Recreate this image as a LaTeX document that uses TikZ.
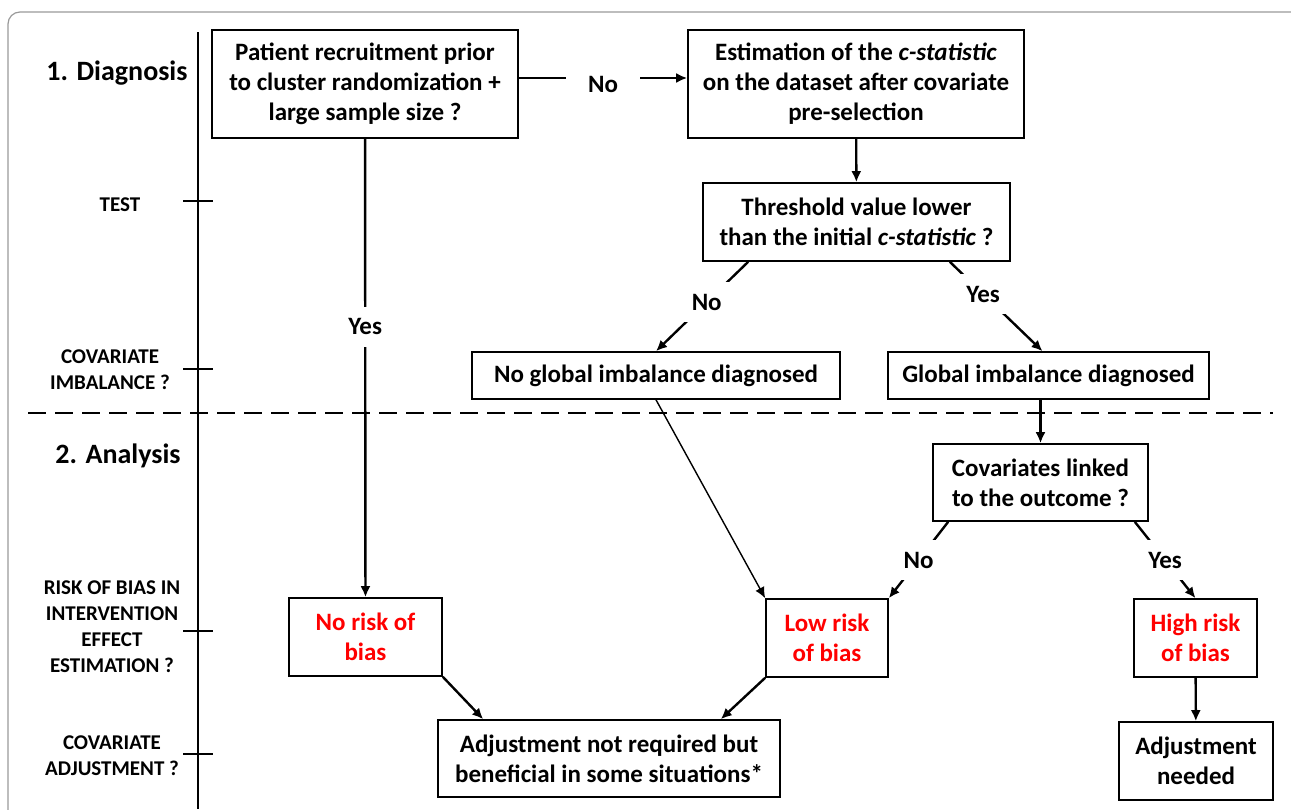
\documentclass[tikz,border=0pt]{standalone}
\usepackage{fontspec}
\setmainfont{Carlito}
\usetikzlibrary{positioning, arrows.meta}
\tikzset{caja/.style={draw, line width=0.8pt, align=center, inner sep=0pt, font=\fontsize{12.5}{15}\selectfont\bfseries}}
\tikzset{flecha/.style={line width=1.2pt, -{Latex[length=5.5pt,width=5pt]}}}
\tikzset{etiq/.style={fill=white, inner xsep=7pt, inner ysep=6pt, font=\fontsize{12.5}{15}\selectfont\bfseries}}
\tikzset{eje/.style={align=center, font=\fontsize{10.5}{13}\selectfont\bfseries}}
\tikzset{fase/.style={font=\fontsize{14}{17}\selectfont\bfseries}}

\begin{document}
\begin{tikzpicture}[x=0.5pt, y=-0.5pt]
    \useasboundingbox (0,0) rectangle (1291,809);
    \draw[black!40, line width=0.6pt, rounded corners=6pt] (8,12) rectangle (1320,840);

    % eje de fases
    \coordinate (ejeA) at (198,32);
    \coordinate (ejeB) at (198,809);
    \draw[line width=1.2pt] (ejeA) -- (ejeB);
    \foreach \y in {201,369,631,754}
        \draw[line width=1.2pt] (183,\y) -- (213,\y);

    \node[fase] (diag) at (117,73) {1. Diagnosis};
    \node[fase] (anal) at (118,456) {2. Analysis};
    \node[eje] (test) at (120,205) {TEST};
    \node[eje] (imb) at (110,370) {COVARIATE\\IMBALANCE ?};
    \node[eje] (riesgo) at (112,627) {RISK OF BIAS IN\\INTERVENTION\\EFFECT\\ESTIMATION ?};
    \node[eje] (ajuste) at (112,756) {COVARIATE\\ADJUSTMENT ?};

    \draw[line width=1.2pt, dash pattern=on 9pt off 4.5pt] (28,413) -- (1273,413);

    % cajas
    \node[caja, minimum width=153pt, minimum height=54pt] (recruit) at (365,84)
        {Patient recruitment prior\\to cluster randomization +\\large sample size ?};
    \node[caja, minimum width=168pt, minimum height=54pt] (cstat) at (856,84)
        {Estimation of the \textit{c-statistic}\\on the dataset after covariate\\pre-selection};
    \node[caja, minimum width=153.5pt, minimum height=39pt] (thresh) at (856.5,222)
        {Threshold value lower\\than the initial \textit{c-statistic} ?};
    \node[caja, minimum width=184pt, minimum height=23.5pt] (noimb) at (656,375.5)
        {No global imbalance diagnosed};
    \node[caja, minimum width=160.5pt, minimum height=23.5pt] (glimb) at (1048.5,375.5)
        {Global imbalance diagnosed};
    \node[caja, minimum width=107.5pt, minimum height=38.5pt] (linked) at (1040.5,482.5)
        {Covariates linked\\to the outcome ?};
    \node[caja, minimum width=76.5pt, minimum height=39pt, text=red] (norisk) at (365.5,637)
        {No risk of\\bias};
    \node[caja, minimum width=61pt, minimum height=39pt, text=red] (lowrisk) at (827,638)
        {Low risk\\of bias};
    \node[caja, minimum width=61.5pt, minimum height=39pt, text=red] (highrisk) at (1195.5,638)
        {High risk\\of bias};
    \node[caja, minimum width=171pt, minimum height=38.5pt] (notreq) at (609,758.5)
        {Adjustment not required but\\beneficial in some situations*};
    \node[caja, minimum width=77pt, minimum height=39pt] (needed) at (1196,761)
        {Adjustment\\needed};

    % conexiones
    \draw[flecha] ([yshift=3pt]recruit.east) -- node[etiq, inner xsep=11pt, yshift=-3pt] (noA) {No} ([yshift=3pt]cstat.west);
    \draw[flecha] (cstat) -- (thresh);
    \draw[flecha] ([xshift=23pt]thresh.south west) -- node[etiq, pos=0.45] (noB) {No} (noimb.north);
    \draw[flecha] ([xshift=-30.5pt]thresh.south east) -- node[etiq, pos=0.36] (siB) {Yes} ([xshift=-3pt]glimb.north);
    \draw[flecha] (recruit) -- node[etiq, pos=0.41] (siA) {Yes} (norisk);
    \draw[flecha] (glimb.south -| linked.north) -- (linked.north);
    \draw[flecha] ([xshift=8pt]linked.south west) -- node[etiq] (noC) {No} (lowrisk.north east);
    \draw[flecha] ([xshift=-7pt]linked.south east) -- node[etiq] (siC) {Yes} (highrisk.north);
    \draw[flecha, line width=0.7pt] (noimb.south) -- (lowrisk.north west);
    \draw[flecha] (norisk.south east) -- ([xshift=23pt]notreq.north west);
    \draw[flecha] (lowrisk.south west) -- ([xshift=-30pt]notreq.north east);
    \draw[flecha] (highrisk) -- (needed);
\end{tikzpicture}
\end{document}
